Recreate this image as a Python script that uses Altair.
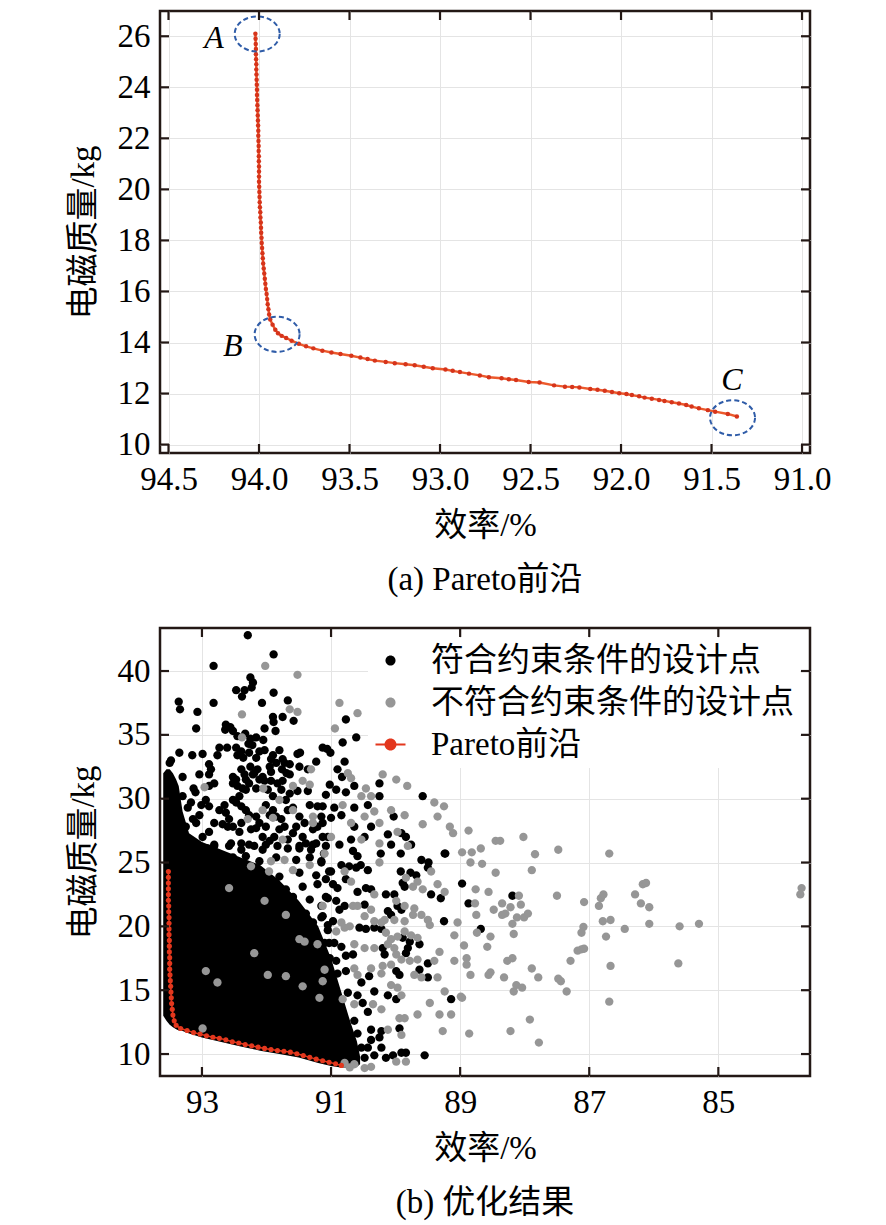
import altair as alt
import pandas as pd

FONT = "Liberation Serif, Noto Sans CJK SC"

# ---------------- (a) Pareto front ----------------
front_a = [
    (94.020, 26.1), (94.019, 25.9), (94.018, 25.7), (94.017, 25.5), (94.017, 25.3), (94.016, 25.1),
    (94.015, 24.9), (94.015, 24.7), (94.014, 24.5), (94.013, 24.3), (94.012, 24.1), (94.011, 23.9),
    (94.011, 23.7), (94.010, 23.5), (94.009, 23.3), (94.008, 23.1), (94.007, 22.9), (94.006, 22.7),
    (94.005, 22.5), (94.004, 22.3), (94.004, 22.1), (94.003, 21.9), (94.002, 21.7), (94.002, 21.5),
    (94.001, 21.3), (94.001, 21.1), (94.000, 20.9), (94.000, 20.7), (94.000, 20.5), (94.000, 20.3),
    (93.999, 20.1), (93.998, 19.9), (93.997, 19.7), (93.996, 19.5), (93.995, 19.3), (93.993, 19.1),
    (93.992, 18.9), (93.990, 18.7), (93.989, 18.5), (93.988, 18.3), (93.986, 18.1), (93.985, 17.9),
    (93.983, 17.7), (93.981, 17.5), (93.979, 17.3), (93.977, 17.1), (93.974, 16.9), (93.971, 16.7),
    (93.968, 16.5), (93.965, 16.3), (93.962, 16.1), (93.958, 15.9), (93.955, 15.7), (93.952, 15.5),
    (93.948, 15.3), (93.944, 15.1), (93.938, 14.9), (93.925, 14.7), (93.910, 14.5),
    (93.895, 14.36), (93.875, 14.26), (93.85, 14.18), (93.82, 14.07), (93.78, 13.95), (93.74, 13.85),
    (93.70, 13.77), (93.65, 13.68), (93.60, 13.61), (93.55, 13.55), (93.49, 13.48), (93.44, 13.41),
    (93.40, 13.35), (93.36, 13.29), (93.30, 13.24), (93.25, 13.19), (93.19, 13.15), (93.14, 13.11),
    (93.09, 13.05), (93.04, 12.99), (92.97, 12.94), (92.93, 12.89), (92.89, 12.84), (92.84, 12.78),
    (92.78, 12.71), (92.73, 12.64), (92.66, 12.60), (92.62, 12.56), (92.58, 12.53), (92.51, 12.45),
    (92.45, 12.43), (92.37, 12.32), (92.31, 12.27), (92.27, 12.26), (92.23, 12.24), (92.17, 12.18),
    (92.13, 12.15), (92.09, 12.11), (92.05, 12.06), (92.01, 12.01), (91.97, 11.98), (91.94, 11.94),
    (91.90, 11.89), (91.87, 11.84), (91.83, 11.80), (91.79, 11.75), (91.76, 11.71), (91.72, 11.66),
    (91.68, 11.61), (91.64, 11.55), (91.61, 11.49), (91.57, 11.42), (91.52, 11.35), (91.48, 11.29),
    (91.41, 11.20), (91.36, 11.10),
]

# circled points A, B, C and their letters
circle_names = ["A", "B", "C"]
circle_eff = [94.01, 93.90, 91.384]
circle_mass = [26.09, 14.32, 11.05]
letter_eff = [94.249, 94.145, 91.387]
letter_mass = [25.95, 13.86, 12.55]

xa_ticks = [94.5, 94.0, 93.5, 93.0, 92.5, 92.0, 91.5, 91.0]
ya_ticks = [10, 12, 14, 16, 18, 20, 22, 24, 26]

# ---------------- (b) optimisation results ----------------
categories = ["符合约束条件的设计点", "不符合约束条件的设计点", "Pareto前沿"]

# densely packed region of feasible points: (efficiency, lower mass, upper mass)
dense_core = [
    (93.60, 13.0, 32.0), (93.55, 12.6, 32.3), (93.50, 12.3, 32.3), (93.45, 12.1, 32.0),
    (93.40, 11.95, 31.5), (93.36, 11.85, 31.0), (93.30, 11.8, 29.0), (93.20, 11.6, 27.3),
    (93.00, 11.3, 26.6), (92.70, 10.95, 26.0), (92.40, 10.6, 25.4), (92.10, 10.26, 24.8),
    (91.80, 10.0, 23.6), (91.50, 9.73, 22.0), (91.20, 9.3, 20.0), (91.00, 9.07, 17.5),
    (90.85, 8.95, 15.0), (90.70, 8.95, 12.5), (90.60, 9.0, 11.0), (90.55, 9.2, 9.8),
]

feasible = [
    (92.29, 42.8), (91.89, 41.3), (92.82, 40.4), (92.25, 39.5), (92.21, 39.1), (92.47, 38.5),
    (92.34, 38.5), (92.23, 38.7), (91.89, 38.3), (92.38, 38.0), (93.36, 37.6), (93.34, 37.0),
    (93.07, 36.8), (92.82, 37.5), (92.07, 37.5), (91.67, 37.7), (91.90, 36.4), (91.89, 36.0),
    (91.75, 36.4), (91.58, 36.1), (93.09, 35.5), (92.63, 35.8), (92.64, 35.4), (92.52, 35.3),
    (92.56, 35.6), (92.33, 35.1), (92.03, 35.5), (91.86, 35.3), (92.45, 34.9), (92.25, 34.7),
    (92.16, 34.8), (92.05, 34.6), (92.22, 34.2), (92.28, 34.3), (92.73, 34.0), (92.61, 34.0),
    (92.47, 34.0), (92.39, 33.7), (93.35, 33.6), (93.15, 33.4), (92.99, 33.5), (92.76, 33.4),
    (93.50, 32.8), (93.48, 33.0), (92.27, 33.6), (92.11, 33.7), (92.03, 33.8), (91.90, 33.4),
    (91.93, 33.1), (91.80, 33.8), (91.75, 33.1), (91.72, 32.8), (91.52, 33.5), (91.48, 33.6),
    (91.13, 34.0), (92.89, 32.7), (92.86, 32.3), (92.89, 31.9), (93.04, 31.9), (93.30, 31.7),
    (92.52, 31.7), (92.47, 31.5), (92.34, 31.9), (92.32, 31.5), (92.19, 32.0), (92.14, 32.3),
    (92.06, 31.7), (92.03, 31.4), (91.95, 32.5), (91.93, 32.1), (91.85, 32.8), (91.76, 32.3),
    (91.69, 32.0), (91.64, 32.7), (91.49, 32.5), (91.36, 32.3), (91.23, 32.9), (93.13, 30.8),
    (93.10, 30.5), (92.89, 31.0), (92.81, 31.2), (92.52, 31.2), (92.45, 31.0), (92.37, 30.8),
    (92.27, 31.2), (92.16, 30.8), (91.93, 31.4), (91.83, 31.2), (91.75, 31.4), (91.64, 31.9),
    (93.30, 30.2), (93.22, 29.3), (93.14, 28.4), (93.25, 27.8), (93.20, 26.7), (93.01, 29.5),
    (92.94, 29.9), (92.89, 29.4), (92.63, 28.9), (92.58, 28.4), (92.60, 27.8), (92.47, 29.7),
    (92.39, 29.4), (92.32, 29.1), (92.27, 28.7), (92.16, 28.6), (92.11, 28.1), (92.01, 29.5),
    (91.90, 29.1), (91.85, 28.6), (91.77, 28.4), (91.70, 29.9), (91.67, 29.1), (91.59, 29.3),
    (91.49, 28.6), (91.41, 28.1), (91.33, 29.5), (91.21, 29.4), (91.15, 28.6), (92.68, 28.0),
    (92.52, 27.8), (92.42, 27.4), (92.16, 27.7), (92.06, 27.0), (91.95, 26.7), (91.80, 27.6),
    (91.67, 26.8), (91.54, 27.8), (91.44, 27.0), (91.28, 27.6), (91.23, 26.5), (91.13, 27.0),
    (93.07, 26.0), (92.94, 26.1), (92.81, 26.3), (92.55, 26.5), (92.39, 26.0), (92.27, 26.4),
    (92.06, 26.0), (91.67, 26.1), (91.49, 26.3), (91.31, 26.0),
    (92.45, 33.4), (92.36, 33.2), (92.16, 33.2), (92.39, 32.3), (92.25, 32.5), (92.21, 31.9),
    (92.11, 31.5), (91.98, 30.7), (92.32, 30.7), (92.42, 30.2), (92.52, 29.9), (92.65, 29.5),
    (92.73, 29.1), (92.81, 28.1), (92.89, 27.4), (92.99, 27.0), (93.09, 28.1), (93.04, 28.7),
    (93.17, 29.7), (92.39, 28.1), (92.24, 27.6), (92.01, 27.8), (91.88, 27.0), (91.72, 27.8),
    (91.59, 27.3), (91.39, 26.5), (91.21, 27.8), (91.13, 28.1), (91.36, 30.6), (91.52, 30.6),
    (91.64, 30.4), (91.77, 30.7), (91.90, 30.2), (91.95, 28.7),
    (93.14, 26.0), (92.91, 26.1), (92.81, 26.4), (92.58, 26.3), (92.39, 26.5), (92.19, 26.3),
    (92.01, 26.4), (91.83, 26.3), (91.49, 26.1), (91.28, 26.4), (91.08, 26.3), (93.20, 25.0),
    (93.01, 25.2), (92.73, 25.5), (92.52, 25.4), (92.32, 25.5), (92.11, 25.1), (91.85, 25.4),
    (91.54, 25.2), (91.33, 25.4), (91.15, 25.0), (93.09, 24.0), (92.86, 24.2), (92.65, 24.3),
    (92.42, 24.4), (92.16, 24.0), (91.80, 23.9), (91.49, 24.2), (91.23, 24.0), (91.03, 24.3),
    (93.17, 23.3), (92.94, 23.3), (92.73, 23.1), (92.47, 23.4), (92.21, 23.1), (92.01, 23.0),
    (91.70, 22.9), (91.44, 23.1), (91.21, 23.3), (93.04, 22.3), (92.81, 22.5), (92.60, 22.1),
    (92.34, 22.5), (92.14, 22.2), (91.88, 22.0), (91.59, 22.3), (91.33, 22.1), (91.08, 22.3),
    (93.14, 21.3), (92.89, 21.4), (92.68, 21.0), (92.42, 21.3), (92.19, 21.3), (91.93, 21.0),
    (91.65, 21.4), (91.39, 21.0), (91.13, 20.8), (93.01, 20.3), (92.76, 20.3), (92.52, 20.5),
    (92.27, 20.1), (92.01, 20.5), (91.77, 20.1), (91.54, 20.4), (91.28, 20.3), (91.05, 20.1),
    (91.96, 19.5), (91.70, 19.0), (91.46, 19.3), (91.21, 19.1), (91.03, 18.7), (91.80, 17.9),
    (91.54, 18.2), (91.31, 17.8), (91.08, 17.5), (91.70, 16.9), (91.44, 16.6), (91.18, 16.3),
    (91.03, 15.8), (91.28, 15.3),
    (90.77, 36.2), (90.61, 34.8), (90.82, 34.4), (91.06, 33.9), (91.01, 33.6), (90.34, 33.0),
    (90.90, 32.3), (90.79, 32.9), (90.83, 31.7), (90.25, 31.2), (91.02, 31.1), (90.92, 30.7),
    (91.08, 30.3), (90.64, 31.0), (90.77, 30.5), (90.25, 30.2), (89.58, 30.2), (91.13, 29.4),
    (90.95, 29.3), (90.64, 29.3), (90.43, 29.5), (90.84, 28.7), (91.00, 28.5), (90.03, 28.6),
    (90.64, 27.8), (90.38, 27.8), (90.12, 27.2), (89.91, 27.3), (89.84, 27.0), (90.48, 27.0),
    (90.69, 26.8), (91.05, 27.0), (90.07, 26.4), (89.76, 26.4), (90.87, 26.4), (89.24, 25.7),
    (91.11, 25.7), (90.66, 25.9), (90.59, 25.5), (90.23, 25.7), (89.92, 25.7), (89.60, 25.2),
    (89.49, 25.0), (89.23, 25.7), (90.84, 24.8), (90.72, 24.7), (90.61, 24.6), (90.54, 24.8),
    (90.43, 24.4), (91.00, 24.3), (91.15, 25.1), (89.92, 24.3), (89.77, 24.2), (89.68, 24.0),
    (89.50, 24.6), (89.89, 23.4), (89.86, 23.1), (89.45, 22.5), (89.30, 22.2), (89.25, 20.4),
    (91.08, 23.7), (90.97, 23.3), (90.90, 23.0), (90.77, 23.7), (90.59, 22.7), (90.46, 23.0),
    (90.38, 22.9), (90.15, 22.5), (90.02, 22.5), (89.97, 21.6), (89.91, 21.3), (91.05, 22.2),
    (90.92, 22.0), (91.15, 21.6), (90.87, 21.3), (90.79, 21.6), (90.48, 21.7), (90.12, 21.2),
    (90.07, 20.9), (91.15, 20.7), (90.97, 20.4), (90.56, 19.9), (90.46, 19.8), (90.33, 19.9),
    (90.22, 19.8), (91.05, 19.7), (89.89, 19.1), (89.78, 18.8), (89.63, 18.6), (91.10, 18.7),
    (90.95, 18.7), (90.84, 18.4), (90.20, 18.3), (90.17, 17.8), (90.66, 17.8), (90.77, 17.7),
    (91.02, 17.5), (90.92, 17.3), (89.81, 18.3), (89.84, 17.9), (89.50, 17.1), (89.63, 16.6),
    (89.50, 16.0), (89.99, 16.5), (89.94, 16.2), (90.41, 16.1), (90.53, 15.6), (91.15, 16.7),
    (91.05, 16.6), (90.90, 16.3), (90.77, 16.5), (90.33, 14.9), (90.12, 14.6), (89.99, 14.3),
    (89.14, 14.3), (90.95, 14.6), (90.74, 14.8), (90.59, 14.6), (90.51, 14.0), (91.05, 13.9),
    (90.95, 13.3), (90.43, 13.3), (89.94, 12.0), (90.38, 11.9), (90.22, 11.8), (90.64, 12.6),
    (90.77, 12.0), (90.59, 11.6), (90.38, 11.1), (90.25, 11.3), (90.43, 10.5), (90.22, 10.5),
    (90.04, 9.9), (89.91, 10.1), (89.84, 10.1), (89.55, 9.9), (90.53, 10.5), (90.33, 9.9),
    (90.15, 9.7), (90.48, 9.7), (90.64, 10.1),
    (88.97, 23.35), (88.19, 22.4), (88.87, 21.8), (88.68, 19.8),
]

infeasible = [
    (92.02, 40.4), (91.52, 39.7), (92.38, 36.6), (91.64, 37.0), (91.52, 36.8), (92.38, 34.8),
    (92.96, 30.9), (92.05, 30.8), (91.59, 31.0), (91.44, 31.4), (91.31, 32.3), (91.33, 31.1),
    (92.06, 29.1), (91.90, 28.5), (91.80, 29.9), (91.59, 29.1), (91.28, 28.6), (92.29, 28.4),
    (91.75, 26.8), (91.28, 28.1),
    (90.87, 37.5), (90.59, 36.7), (90.94, 35.5), (90.74, 32.0), (90.69, 31.6), (90.20, 31.9),
    (89.99, 31.5), (89.82, 31.0), (90.46, 30.8), (90.53, 30.2), (90.38, 30.2), (89.40, 29.7),
    (89.25, 29.4), (90.82, 29.5), (90.33, 29.0), (90.48, 28.6), (90.07, 29.1), (89.86, 28.7),
    (89.35, 28.6), (90.69, 28.1), (90.25, 28.1), (89.58, 28.0), (89.16, 27.8), (89.11, 27.3),
    (89.97, 27.4), (91.00, 27.0), (90.53, 26.8), (90.25, 26.5), (89.81, 26.3),
    (90.25, 25.0), (90.79, 24.3), (89.84, 23.8), (89.66, 23.5), (89.45, 24.3), (89.73, 23.1),
    (89.35, 23.3), (89.24, 22.7), (89.58, 22.9), (89.04, 20.3), (89.09, 19.3), (90.69, 23.5),
    (90.33, 22.5), (89.99, 22.0), (89.86, 21.6), (89.71, 21.4), (89.73, 20.9), (89.60, 20.9),
    (89.50, 20.5), (89.47, 20.1), (90.66, 21.6), (90.59, 21.6), (90.38, 21.3), (90.17, 20.5),
    (90.22, 20.3), (90.02, 20.5), (89.86, 20.4), (90.48, 20.8), (90.33, 20.4), (90.84, 20.3),
    (90.71, 20.0), (90.79, 19.9), (90.92, 19.6), (89.86, 19.6), (89.76, 19.3), (89.97, 19.2),
    (89.66, 19.1), (90.15, 19.5), (90.07, 19.0), (90.64, 18.6), (90.48, 18.3), (90.33, 18.3),
    (90.12, 18.6), (90.02, 18.3), (89.99, 17.8), (89.91, 17.4), (89.78, 17.3), (89.66, 17.4),
    (89.40, 17.3), (89.32, 18.0), (89.09, 17.3), (89.35, 16.0), (89.60, 16.0), (89.71, 16.2),
    (90.07, 17.0), (90.20, 16.9), (90.38, 16.7), (90.22, 16.3), (90.64, 16.7), (90.59, 16.2),
    (90.07, 15.4), (89.97, 15.2), (89.91, 14.6), (89.24, 14.9), (89.47, 14.0), (90.82, 14.3),
    (90.64, 13.9), (90.35, 13.9), (90.22, 13.5), (89.66, 13.1), (89.32, 13.1), (89.14, 13.1),
    (89.94, 12.8), (89.86, 12.8), (89.27, 11.8), (90.12, 11.9), (89.91, 11.5), (89.99, 9.4),
    (89.84, 9.4), (90.64, 9.2), (90.48, 8.9), (90.38, 9.0), (90.79, 9.3), (90.71, 8.95),
    (91.72, 25.2), (91.10, 25.7), (92.24, 24.7), (91.96, 24.3), (91.59, 24.4), (92.58, 23.0),
    (92.03, 22.0), (91.70, 20.9), (91.13, 21.6), (91.41, 18.8), (91.21, 18.6), (92.19, 17.9),
    (91.98, 16.2), (91.70, 16.1), (91.44, 15.3), (91.10, 16.6), (92.94, 16.5), (91.93, 25.1),
    (91.33, 24.8), (91.49, 19.0), (91.13, 15.7), (92.76, 15.6), (92.99, 12.0), (91.18, 14.4),
    (88.87, 27.5), (88.45, 26.7), (88.38, 26.7), (88.02, 27.0), (87.48, 26.0), (87.84, 25.65),
    (86.69, 25.7), (88.97, 25.8), (88.82, 25.8), (88.68, 26.1), (88.84, 25.0), (88.66, 24.9),
    (88.45, 24.2), (87.89, 24.4), (88.76, 22.9), (88.56, 22.7), (88.09, 22.4), (88.77, 21.8),
    (88.48, 21.3), (88.35, 21.8), (88.06, 21.7), (88.35, 20.9), (88.30, 21.0), (88.22, 21.5),
    (88.12, 20.7), (88.01, 20.7), (87.95, 21.0), (88.19, 20.2), (88.75, 20.9), (88.74, 19.5),
    (88.53, 19.2), (88.17, 19.4), (88.94, 18.5), (88.58, 18.4), (87.50, 22.4), (87.08, 21.9),
    (86.82, 22.2), (86.78, 22.5), (86.85, 21.6), (86.79, 20.4), (86.67, 20.5), (86.74, 19.2),
    (86.45, 19.8), (87.09, 19.95), (87.12, 19.5), (87.18, 18.1), (87.12, 18.2), (87.08, 18.25),
    (87.29, 17.3), (88.90, 17.5), (88.90, 17.0), (88.84, 16.2), (88.53, 16.4), (88.56, 16.2),
    (88.32, 16.0), (88.27, 17.3), (88.19, 17.5), (87.89, 16.7), (87.79, 16.0), (87.48, 15.9),
    (87.44, 15.7), (87.35, 14.9), (88.17, 14.9), (88.13, 15.4), (88.04, 15.2), (86.67, 16.9),
    (86.69, 14.1), (88.99, 14.5), (88.97, 14.4), (88.86, 11.6), (88.22, 11.8), (87.92, 12.7),
    (87.78, 10.9), (86.29, 22.5), (86.17, 23.3), (86.12, 23.4), (86.20, 21.8), (86.07, 21.5),
    (86.07, 20.2), (85.60, 20.0), (85.30, 20.2), (85.62, 17.1), (83.71, 23.0), (83.73, 22.5),
]

front_b = [
    (93.52, 24.3), (93.52, 23.85), (93.52, 23.4), (93.52, 22.95), (93.52, 22.5), (93.52, 22.05),
    (93.515, 21.6), (93.515, 21.15), (93.51, 20.7), (93.51, 20.25), (93.51, 19.8), (93.51, 19.35),
    (93.505, 18.9), (93.505, 18.45), (93.505, 18.0), (93.50, 17.55), (93.50, 17.1), (93.50, 16.65),
    (93.495, 16.2), (93.49, 15.75), (93.485, 15.3), (93.48, 14.85), (93.475, 14.4), (93.47, 13.95),
    (93.46, 13.5), (93.45, 13.05), (93.43, 12.6), (93.40, 12.25),
    (93.33, 12.0), (93.23, 11.84), (93.13, 11.68), (93.03, 11.56), (92.93, 11.43), (92.83, 11.31),
    (92.73, 11.23), (92.63, 11.11), (92.53, 10.96), (92.43, 10.86), (92.33, 10.75), (92.23, 10.64),
    (92.13, 10.54), (92.03, 10.44), (91.93, 10.35), (91.83, 10.28), (91.73, 10.22), (91.63, 10.15),
    (91.53, 10.02), (91.43, 9.89), (91.33, 9.74), (91.23, 9.60), (91.13, 9.48), (91.03, 9.36),
    (90.93, 9.23), (90.84, 9.11),
]

xb_ticks = [93, 91, 89, 87, 85]
yb_ticks = [10, 15, 20, 25, 30, 35, 40]

# ---------------- styling ----------------
W = 650
HA, HB = 442, 448
FRAME = "#231815"
RED_A_LINE, RED_A_DOT = "#ec5a2c", "#d6341b"
RED_B = "#e3371d"
BLUE = "#2f5ca8"
CIRC = "M0.67,0A0.67,0.67,0,1,1,-0.67,0A0.67,0.67,0,1,1,0.67,0Z"
PARETO_SYM = "M-2,-0.12H2V0.12H-2Z M0.8,0A0.8,0.8,0,1,1,-0.8,0A0.8,0.8,0,1,1,0.8,0Z"
ELLIPSE = "M1,0A1,0.78,0,1,1,-1,0A1,0.78,0,1,1,1,0Z"

xs_a = alt.Scale(domain=[90.956, 94.547], reverse=True, nice=False, zero=False)
ys_a = alt.Scale(domain=[9.67, 26.99], nice=False, zero=False)
xs_b = alt.Scale(domain=[83.58, 93.65], reverse=True, nice=False, zero=False)
ys_b = alt.Scale(domain=[8.28, 43.37], nice=False, zero=False)

ax_xa = alt.Axis(values=xa_ticks, format=".1f", labelFlush=False, labelOverlap=False)
ax_ya = alt.Axis(values=ya_ticks, format="d")
ax_xb = alt.Axis(values=xb_ticks, format="d", labelFlush=False, labelOverlap=False)
ax_yb = alt.Axis(values=yb_ticks, format="d")

XT = "效率/%"
YT = "电磁质量/kg"


def frame_ticks(xvals, yvals, X, Y, h):
    dx = pd.DataFrame({"x": xvals})
    dy = pd.DataFrame({"y": yvals})
    rx = alt.Chart(dx).mark_rule(color=FRAME, strokeWidth=2.2)
    ry = alt.Chart(dy).mark_rule(color=FRAME, strokeWidth=2.2)
    return [
        rx.encode(x=X, y=alt.value(h), y2=alt.value(h - 9)),
        rx.encode(x=X, y=alt.value(0), y2=alt.value(9)),
        ry.encode(y=Y, x=alt.value(0), x2=alt.value(9)),
        ry.encode(y=Y, x=alt.value(W), x2=alt.value(W - 9)),
    ]


# ---------- panel (a) ----------
XA = alt.X("x:Q", scale=xs_a, axis=ax_xa, title=XT)
YA = alt.Y("y:Q", scale=ys_a, axis=ax_ya, title=YT)

fa = pd.DataFrame(front_a, columns=["x", "y"])
fa["i"] = range(len(fa))
circ_df = pd.DataFrame({"x": circle_eff, "y": circle_mass, "n": circle_names})
lett_df = pd.DataFrame({"x": letter_eff, "y": letter_mass, "n": circle_names})

line_a = alt.Chart(fa).mark_line(color=RED_A_LINE, strokeWidth=2.4).encode(x=XA, y=YA, order="i:Q")
dots_a = alt.Chart(fa).mark_circle(color=RED_A_DOT, size=20, opacity=1).encode(x=XA, y=YA)
ell_a = alt.Chart(circ_df).mark_point(
    shape=ELLIPSE, size=2025, filled=False, color=BLUE, strokeWidth=2, strokeDash=[5, 3], opacity=1
).encode(x=XA, y=YA)
txt_a = alt.Chart(lett_df).mark_text(
    font="Liberation Serif", fontStyle="italic", fontSize=32, color="black", align="center", baseline="middle"
).encode(x=XA, y=YA, text="n:N")

panel_a = alt.layer(
    line_a, dots_a, ell_a, txt_a, *frame_ticks(xa_ticks, ya_ticks, XA, YA, HA)
).properties(
    width=W, height=HA,
    title=alt.TitleParams("(a) Pareto前沿", orient="bottom", anchor="middle", frame="group", offset=22),
)

# ---------- panel (b) ----------
XB = alt.X("x:Q", scale=xs_b, axis=ax_xb, title=XT)
YB = alt.Y("y:Q", scale=ys_b, axis=ax_yb, title=YT)

core_df = pd.DataFrame(dense_core, columns=["x", "lo", "hi"])
pts = pd.concat([
    pd.DataFrame(feasible, columns=["x", "y"]).assign(cat=categories[0]),
    pd.DataFrame(infeasible, columns=["x", "y"]).assign(cat=categories[1]),
], ignore_index=True)
fb = pd.DataFrame(front_b, columns=["x", "y"])
fb["i"] = range(len(fb))

LEG = alt.Legend(
    title=None, orient="top-right", offset=10, padding=6, fillColor="white",
    labelFont=FONT, labelFontSize=33, labelColor="black", labelLimit=600,
    labelOffset=24, rowPadding=8, symbolSize=225, symbolStrokeWidth=0, symbolOpacity=1,
)

core = alt.Chart(core_df).mark_area(color="black", opacity=1).encode(
    x=XB, y=alt.Y("lo:Q", scale=ys_b, axis=ax_yb, title=YT), y2="hi:Q"
)
scatter = alt.Chart(pts).mark_point(filled=True, size=155, opacity=1, strokeWidth=0).encode(
    x=XB, y=YB,
    color=alt.Color("cat:N", scale=alt.Scale(domain=categories, range=["#000000", "#969696", RED_B]), legend=LEG),
    shape=alt.Shape("cat:N", scale=alt.Scale(domain=categories, range=[CIRC, CIRC, PARETO_SYM]), legend=LEG),
)
line_b = alt.Chart(fb).mark_line(color=RED_B, strokeWidth=1.5).encode(x=XB, y=YB, order="i:Q")
dots_b = alt.Chart(fb).mark_circle(color=RED_B, size=26, opacity=1).encode(x=XB, y=YB)

panel_b = alt.layer(
    core, scatter, line_b, dots_b, *frame_ticks(xb_ticks, yb_ticks, XB, YB, HB)
).properties(
    width=W, height=HB,
    title=alt.TitleParams("(b) 优化结果", orient="bottom", anchor="middle", frame="group", offset=22),
)

chart = alt.vconcat(panel_a, panel_b, spacing=26).resolve_legend(
    color="independent", shape="independent"
).properties(
    padding={"left": 57, "top": 0, "right": 10, "bottom": 0}
).configure(font=FONT).configure_axis(
    grid=True, gridColor="#e4e4e4", gridWidth=1, domain=False, ticks=False,
    labelFont=FONT, labelFontSize=33, labelColor="black",
    titleFont=FONT, titleFontSize=33, titleFontWeight="normal", titleColor="black",
).configure_axisX(labelPadding=10, titlePadding=13).configure_axisY(
    labelPadding=10, titlePadding=17
).configure_view(stroke=FRAME, strokeWidth=2.5).configure_title(
    font=FONT, fontSize=33, fontWeight="normal", color="black"
)

chart.save("out.html", embed_options={"renderer": "svg", "actions": False})
